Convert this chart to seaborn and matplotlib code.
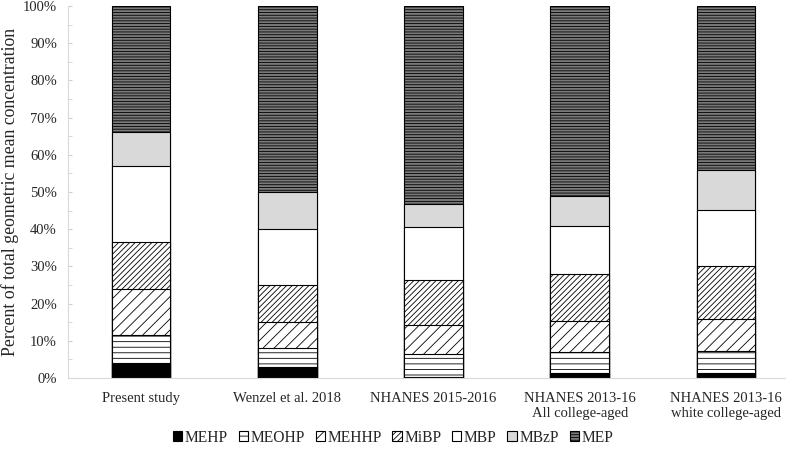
import numpy as np
import pandas as pd
import matplotlib
matplotlib.use("Agg")
import matplotlib.pyplot as plt
from matplotlib.patches import Patch
import seaborn as sns

# Data (percent of total geometric mean concentration)
studies = ["Present study", "Wenzel et al. 2018", "NHANES 2015-2016",
           "NHANES 2013-16\nAll college-aged", "NHANES 2013-16\nwhite college-aged"]
metabolites = ["MEHP", "MEOHP", "MEHHP", "MiBP", "MBP", "MBzP", "MEP"]
mehp = [4.0, 3.0, 0.3, 1.4, 1.3]
meohp = [7.5, 5.0, 6.2, 5.6, 5.9]
mehhp = [12.5, 7.0, 7.8, 8.4, 8.7]
mibp = [12.5, 10.0, 12.0, 12.5, 14.2]
mbp = [20.5, 15.0, 14.3, 13.1, 15.1]
mbzp = [9.0, 10.0, 6.3, 7.8, 10.7]
mep = [34.0, 50.0, 53.1, 51.2, 44.1]

faces = ["black", "white", "white", "white", "white", "#d9d9d9", "#7a7a7a"]
hatches = [None, "---", "///", "//////", None, None, "------"]

sns.set_style("white")
plt.rcParams["font.family"] = ["Liberation Serif", "DejaVu Serif"]
plt.rcParams["hatch.linewidth"] = 0.6
plt.rcParams["hatch.color"] = "black"

df = pd.DataFrame({"Study": studies, "MEHP": mehp, "MEOHP": meohp, "MEHHP": mehhp,
                   "MiBP": mibp, "MBP": mbp, "MBzP": mbzp, "MEP": mep})
cum = df[metabolites].cumsum(axis=1)
cum["Study"] = df["Study"]

fig = plt.figure(figsize=(7.86, 4.55), dpi=100)
ax = fig.add_axes([0.0865, 0.169, 0.93, 0.818])

# layered cumulative bars, drawn top-down so each covers the ones beneath
for i in range(len(metabolites) - 1, -1, -1):
    sns.barplot(data=cum, x="Study", y=metabolites[i], ax=ax, width=0.4,
                color=faces[i], saturation=1, edgecolor="black", linewidth=0.8,
                hatch=hatches[i])

ax.set_ylim(0, 100)
ax.set_xlim(-0.5, 4.5)
ax.set_yticks(np.arange(0, 101, 10))
ax.set_yticklabels([f"{v}%" for v in range(0, 101, 10)])
ax.set_yticks(np.arange(5, 100, 10), minor=True)
ax.tick_params(axis="y", which="both", direction="in", length=3, color="#d0d0d0",
               labelsize=10.5, left=True, pad=8)
ax.tick_params(axis="x", length=0, labelsize=10.5, pad=10)
ax.set_xlabel("")
ax.set_ylabel("Percent of total geometric mean concentration", fontsize=12.8, labelpad=3)
for s in ["top", "right"]:
    ax.spines[s].set_visible(False)
for s in ["left", "bottom"]:
    ax.spines[s].set_color("#d9d9d9")
    ax.spines[s].set_linewidth(0.8)

handles = [Patch(facecolor=faces[i], edgecolor="black", hatch=hatches[i], linewidth=0.8,
                 label=metabolites[i]) for i in range(len(metabolites))]
fig.legend(handles=handles, loc="center", bbox_to_anchor=(0.5, 0.038), ncol=7,
           frameon=False, fontsize=11.2, handlelength=0.6, handleheight=0.6,
           handletextpad=0.15, columnspacing=0.7)

fig.savefig("out.png", dpi=100)
